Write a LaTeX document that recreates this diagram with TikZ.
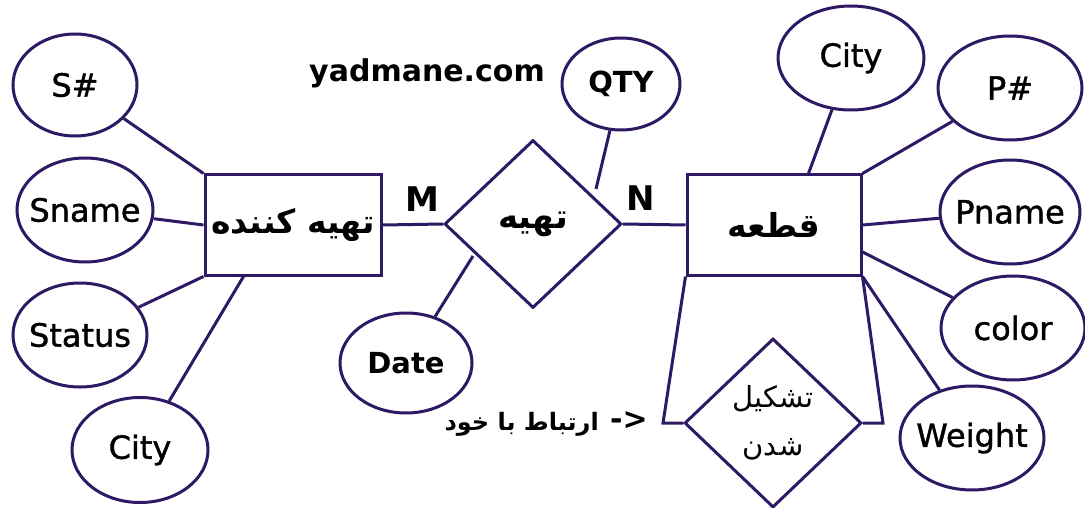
\documentclass[tikz,border=0pt]{standalone}
\usepackage{fontspec}
\setmainfont{DejaVu Sans}
\newfontfamily\attrfont[FakeBold=1.2]{DejaVu Sans}
\newfontfamily\fa[Script=Arabic]{DejaVu Sans}
\TeXXeTstate=1
\usetikzlibrary{shapes.geometric}
\definecolor{ln}{RGB}{45,25,100}
\newcommand\zw[1]{\makebox[0pt][c]{#1}}
\begin{document}
\begin{tikzpicture}[x=1pt,y=-1pt,
  attr/.style={ellipse, draw=ln, line width=3pt, inner sep=0pt, font=\attrfont\fontsize{32}{34}\selectfont},
  attrb/.style={ellipse, draw=ln, line width=3pt, inner sep=0pt, font=\bfseries\fontsize{29}{32}\selectfont},
  entity/.style={rectangle, draw=ln, line width=3pt, inner sep=0pt, font=\fa\bfseries\fontsize{33}{36}\selectfont},
  rel/.style={diamond, draw=ln, line width=3pt, inner sep=0pt, font=\fa\bfseries\fontsize{34}{36}\selectfont},
  card/.style={inner sep=0pt, font=\bfseries\fontsize{34}{36}\selectfont},
  conn/.style={draw=ln, line width=3pt}]
\useasboundingbox (0,0) rectangle (1085,508);
% supplier side
\node[attr, minimum width=124pt, minimum height=102pt] (sno) at (75,85) {\zw{S\#}};
\node[attr, minimum width=136pt, minimum height=104pt] (sname) at (85,210) {\zw{Sname}};
\node[attr, minimum width=134pt, minimum height=104pt] (status) at (80,335) {\zw{Status}};
\node[attr, minimum width=136pt, minimum height=105pt] (scity) at (140,450) {\zw{City}};
\node[entity, minimum width=176pt, minimum height=100pt] (supplier) at (293,225) {\zw{\beginR تهیه کننده\endR}};
% relationship
\node[rel, minimum width=177pt, minimum height=168pt] (supply) at (533,224) {\zw{\beginR تهیه\endR}};
\node[attrb, minimum width=118pt, minimum height=92pt] (qty) at (621,84) {\zw{QTY}};
\node[attrb, minimum width=132pt, minimum height=100pt] (date) at (406,363) {\zw{Date}};
\node[inner sep=0pt, font=\bfseries\fontsize{30}{32}\selectfont] (site) at (427,73) {yadmane.com};
\node[card] (m) at (422,199) {M};
\node[card] (n) at (641,198) {N};
% part side
\node[entity, minimum width=174pt, minimum height=100pt] (part) at (774,225) {\zw{\beginR قطعه\endR}};
\node[attr, minimum width=146pt, minimum height=104pt] (pcity) at (851,58) {\zw{City}};
\node[attr, minimum width=144pt, minimum height=104pt] (pno) at (1010,88) {\zw{P\#}};
\node[attr, minimum width=140pt, minimum height=104pt] (pname) at (1010,212) {\zw{Pname}};
\node[attr, minimum width=144pt, minimum height=104pt] (color) at (1013,328) {\zw{color}};
\node[attr, minimum width=144pt, minimum height=104pt] (weight) at (972,438) {\zw{Weight}};
\node[rel, font=\fa\fontsize{29}{48}\selectfont, align=center, minimum width=177pt, minimum height=169pt] (consist) at (773,423) {\zw{\beginR تشکیل\endR}\\\zw{\beginR شدن\endR}};
\node[anchor=east, inner sep=0pt, font=\fa\bfseries\fontsize{24}{30}\selectfont] (self) at (599,424) {\beginR ارتباط با خود\endR};
\node[inner sep=0pt, font=\bfseries\fontsize{30}{32}\selectfont] (selfarrow) at (629,421) {{-}{>}};
% helper coordinates
\coordinate (sc) at ([xshift=40pt]supplier.south west);
\coordinate (qe) at (596,189);
\coordinate (de) at (473,256);
\coordinate (pc) at ([xshift=123pt]part.north west);
\coordinate (ce) at ([yshift=-27pt]part.east);
\coordinate (lc) at (663,423);
\coordinate (rc) at (883,423);
% connectors
\draw[conn] (sno) -- (supplier.north west);
\draw[conn] (sname) -- (supplier.west);
\draw[conn] (status) -- (supplier.south west);
\draw[conn] (scity) -- (sc);
\draw[conn] (supplier.east) -- (supply.west);
\draw[conn] (supply.east) -- (part.west);
\draw[conn] (qty) -- (qe);
\draw[conn] (date) -- (de);
\draw[conn] (pcity) -- (pc);
\draw[conn] (pno) -- (part.north east);
\draw[conn] (pname) -- (part.east);
\draw[conn] (color) -- (ce);
\draw[conn] (weight) -- (part.south east);
\draw[conn] (part.south west) -- (lc) -- (consist.west);
\draw[conn] (part.south east) -- (rc) -- (consist.east);
\end{tikzpicture}
\end{document}
